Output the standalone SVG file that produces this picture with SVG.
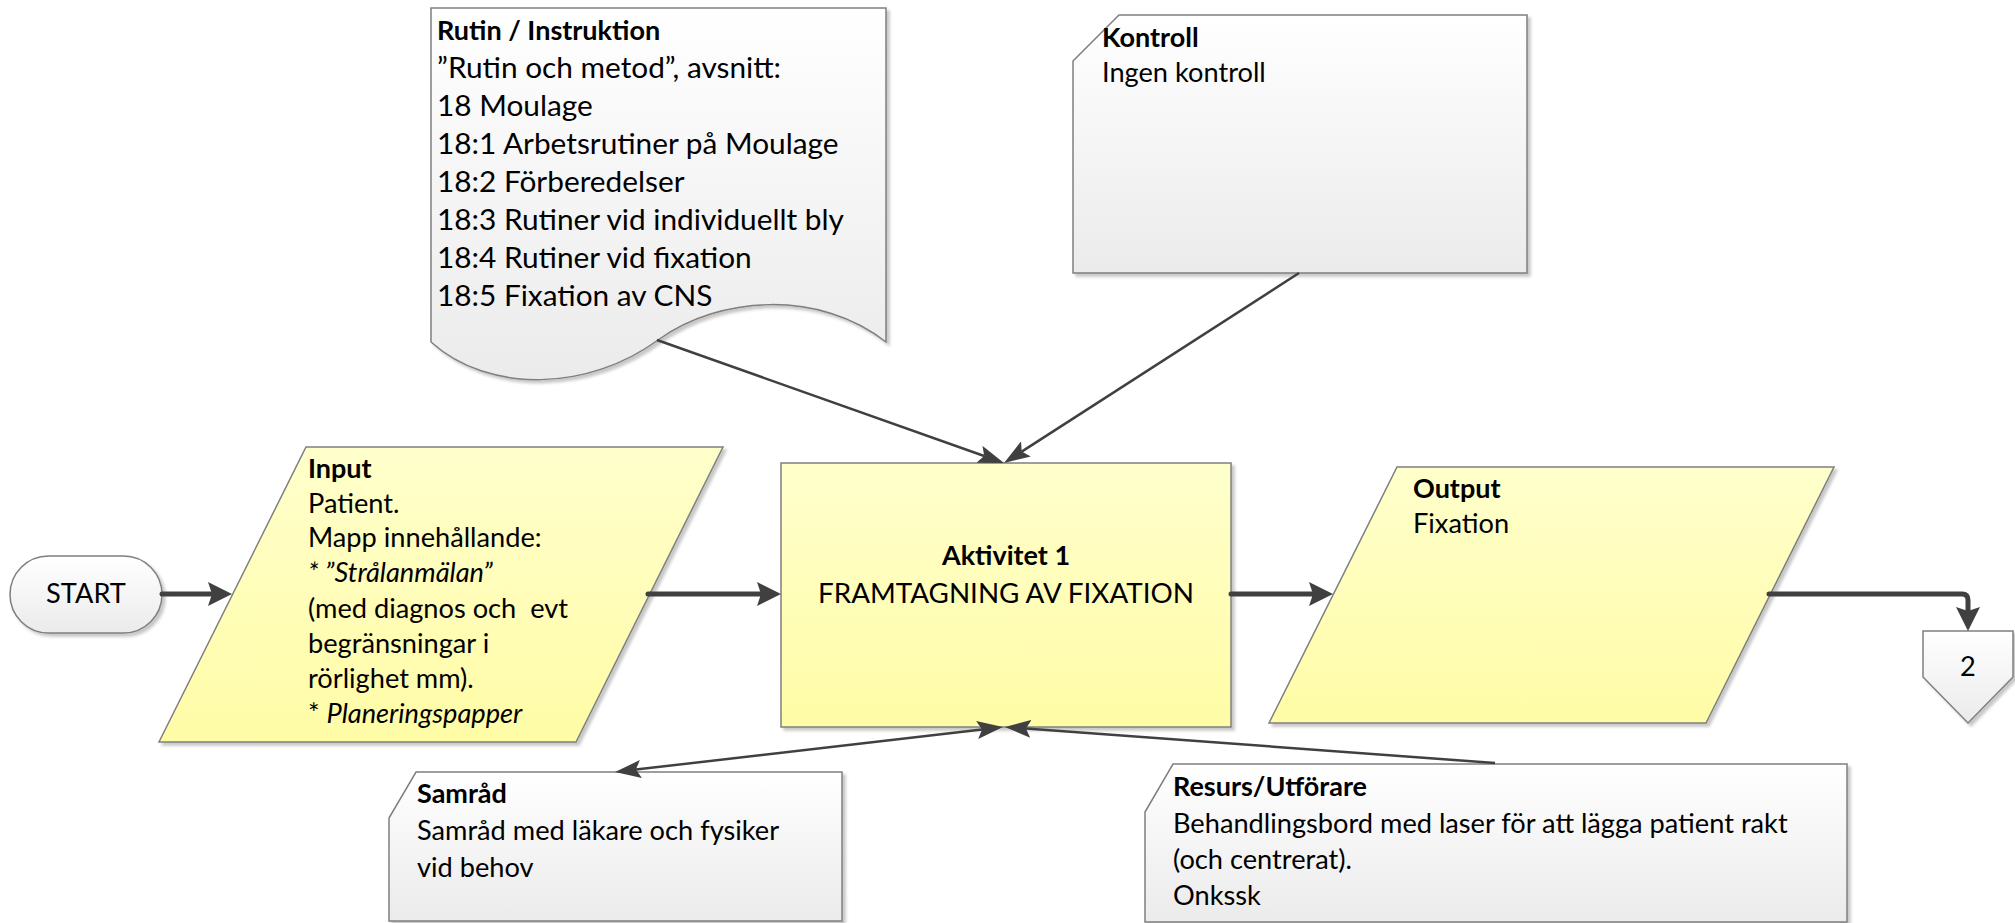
<svg xmlns="http://www.w3.org/2000/svg" width="2015" height="923" viewBox="0 0 2015 923">
  <defs>
    <linearGradient id="gYellow" x1="0" y1="0" x2="0" y2="1">
      <stop offset="0" stop-color="#ffffcc"/>
      <stop offset="1" stop-color="#fffca6"/>
    </linearGradient>
    <linearGradient id="gGray" x1="0" y1="0" x2="0" y2="1">
      <stop offset="0" stop-color="#ffffff"/>
      <stop offset="1" stop-color="#ebebeb"/>
    </linearGradient>
    <filter id="shadow" x="-5%" y="-5%" width="115%" height="115%">
      <feDropShadow dx="3" dy="3" stdDeviation="1.5" flood-color="#000000" flood-opacity="0.22"/>
    </filter>
    <!-- heavy arrowhead for the main flow -->
    <marker id="arrowThick" viewBox="0 0 24 24" markerWidth="24" markerHeight="24" refX="4" refY="12" orient="auto" markerUnits="userSpaceOnUse">
      <path d="M0,0 L24,12 L0,24 L4,12 Z" fill="#404040"/>
    </marker>
    <!-- light arrowhead for control / resource links -->
    <marker id="arrowThin" viewBox="0 0 26 18" markerWidth="26" markerHeight="18" refX="5" refY="9" orient="auto-start-reverse" markerUnits="userSpaceOnUse">
      <path d="M0,0 L26,9 L0,18 L5,9 Z" fill="#404040"/>
    </marker>
  </defs>
  <style>
    .yellow { fill: url(#gYellow); stroke: #7f7f7f; stroke-width: 1.5; filter: url(#shadow); }
    .gray { fill: url(#gGray); stroke: #7f7f7f; stroke-width: 1.5; filter: url(#shadow); }
    text { font-family: Lato, "Liberation Sans", sans-serif; fill: #000000; white-space: pre; }
    .t { font-size: 27.2px; }
    .tb { font-size: 27px; font-weight: bold; }
    .tl { font-size: 29.8px; }
    .ta { font-size: 27.8px; }
    .it { font-style: italic; }
    .mid { text-anchor: middle; }
    .flow { fill: none; stroke: #404040; stroke-width: 5; stroke-linecap: round; stroke-linejoin: round; marker-end: url(#arrowThick); }
    .link { fill: none; stroke: #404040; stroke-width: 2.5; marker-end: url(#arrowThin); }
  </style>

  <g id="start">
    <rect class="gray" x="10" y="556" width="152" height="77" rx="38.5" ry="38.5"/>
    <text class="t mid" x="86" y="603">START</text>
  </g>

  <g id="rutin">
    <path class="gray" d="M431,8 L886,8 L886,342 C820,290 720,295 658,340 C590,390 490,395 431,342 Z"/>
    <text class="tb" x="437" y="40">Rutin / Instruktion</text>
    <text class="tl" x="437" y="78">”Rutin och metod”, avsnitt:</text>
    <text class="tl" x="437" y="116">18 Moulage</text>
    <text class="tl" x="437" y="154">18:1 Arbetsrutiner på Moulage</text>
    <text class="tl" x="437" y="192">18:2 Förberedelser</text>
    <text class="tl" x="437" y="230">18:3 Rutiner vid individuellt bly</text>
    <text class="tl" x="437" y="268">18:4 Rutiner vid fixation</text>
    <text class="tl" x="437" y="306">18:5 Fixation av CNS</text>
  </g>

  <g id="kontroll">
    <path class="gray" d="M1073,61 L1119,15 L1527,15 L1527,273 L1073,273 Z"/>
    <text class="tb" x="1102" y="47">Kontroll</text>
    <text class="t" x="1102" y="82">Ingen kontroll</text>
  </g>

  <g id="input">
    <path class="yellow" d="M306,447 L723,447 L576,742 L159,742 Z"/>
    <text class="tb" x="308" y="478">Input</text>
    <text class="t" x="308" y="513">Patient.</text>
    <text class="t" x="308" y="547">Mapp innehållande:</text>
    <text class="t it" x="308" y="582">* ”Strålanmälan”</text>
    <text class="t" x="308" y="618">(med diagnos och  evt</text>
    <text class="t" x="308" y="653">begränsningar i</text>
    <text class="t" x="308" y="688">rörlighet mm).</text>
    <text class="t" x="308" y="723">* <tspan class="it">Planeringspapper</tspan></text>
  </g>

  <g id="aktivitet">
    <rect class="yellow" x="781" y="463" width="450" height="264"/>
    <text class="tb mid" x="1006" y="565">Aktivitet 1</text>
    <text class="ta mid" x="1006" y="603">FRAMTAGNING AV FIXATION</text>
  </g>

  <g id="output">
    <path class="yellow" d="M1397,467 L1834,467 L1706,723 L1269,723 Z"/>
    <text class="tb" x="1413" y="498">Output</text>
    <text class="t" x="1413" y="533">Fixation</text>
  </g>

  <g id="offpage-2">
    <path class="gray" d="M1923,631 L2013,631 L2013,677 L1968,723 L1923,677 Z"/>
    <text class="t mid" x="1968" y="676">2</text>
  </g>

  <g id="samrad">
    <path class="gray" d="M389,818 L416,772 L842,772 L842,921 L389,921 Z"/>
    <text class="tb" x="417" y="803">Samråd</text>
    <text class="t" x="417" y="840">Samråd med läkare och fysiker</text>
    <text class="t" x="417" y="877">vid behov</text>
  </g>

  <g id="resurs">
    <path class="gray" d="M1145,812 L1173,764 L1847,764 L1847,922 L1145,922 Z"/>
    <text class="tb" x="1173" y="796">Resurs/Utförare</text>
    <text class="t" x="1173" y="833">Behandlingsbord med laser för att lägga patient rakt</text>
    <text class="t" x="1173" y="869">(och centrerat).</text>
    <text class="t" x="1173" y="905">Onkssk</text>
  </g>

  <g id="connectors">
    <path class="flow" d="M162,594 H212"/>
    <path class="flow" d="M648,594 H761"/>
    <path class="flow" d="M1231,594 H1313"/>
    <path class="flow" d="M1769,594 H1962 Q1968,594 1968,600 V611"/>
    <path class="link" d="M657,340 L984.2,456"/>
    <path class="link" d="M1299,273 L1021.7,451.6"/>
    <path class="link" style="marker-start: url(#arrowThin)" d="M635.9,769.6 L982.1,729.4"/>
    <path class="link" d="M1495,763 L1025.9,728.5"/>
  </g>
</svg>
